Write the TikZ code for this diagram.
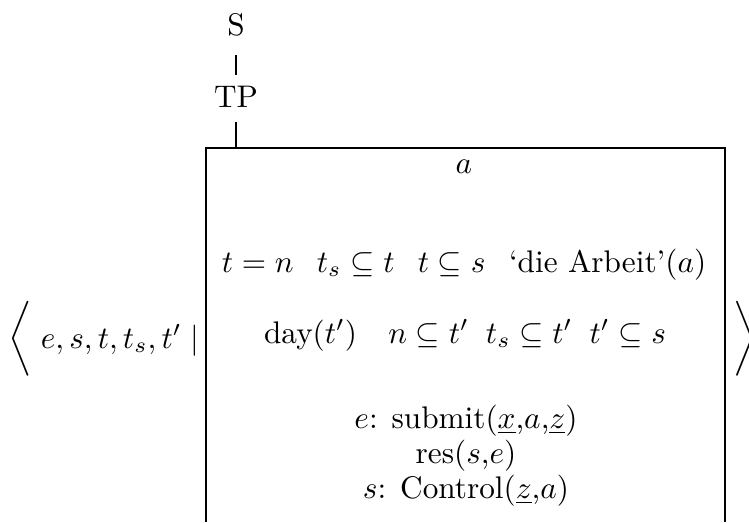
\documentclass[tikz,border=0pt]{standalone}
\usepackage{amsmath,amssymb}
\usepackage{tikz}
\usetikzlibrary{positioning}

\begin{document}
\begin{tikzpicture}[
  x=0.32pt,y=-0.32pt,
  cat/.style={inner sep=3.33pt,font=\normalsize},
  cond/.style={inner sep=0pt,anchor=base},
  brack/.style={inner sep=0pt},
  edge/.style={draw=black,line width=0.5pt}
]
\useasboundingbox (0,0) rectangle (749,522);
% tree
\node[cat] (s) at (236,25) {S};
\node[cat] (tp) at (236,97) {TP};
\coordinate (drstop) at (236,148);
\draw[edge,shorten <=2.5pt] (s) -- (tp);
\draw[edge,shorten <=1pt] (tp) -- (drstop);
% box
\coordinate (boxnw) at (206,148);
\coordinate (boxne) at (725,148);
\coordinate (boxsw) at (206,522);
\coordinate (boxse) at (725,522);
\draw[edge] (boxsw) -- (boxnw) -- (boxne) -- (boxse);
% universe and conditions
\node[cond] (ref) at (464,173) {$a$};
\node[cond] (row1) at (464,272) {$t = n$\hspace{7.5pt}$t_s \subseteq t$\hspace{7.5pt}$t \subseteq s$\hspace{7.5pt}`die Arbeit'$(a)$};
\node[cond] (row2) at (465,343) {day$(t')$\quad$n \subseteq t'$\hspace{5.5pt}$t_s \subseteq t'$\hspace{5.5pt}$t' \subseteq s$};
\node[cond] (ev) at (466,428) {$e$: submit$(\underline{x}$,$a$,$\underline{z})$};
\node[cond] (res) at (466,463) {res$(s$,$e)$};
\node[cond] (st) at (466,498) {$s$: Control$(\underline{z}$,$a)$};
% outer brackets
\node[brack] (lang) at (20,339) {$\bigg\langle$};
\node[cond] (dref) at (120,348) {$e, s, t, t_s, t' \mid$};
\node[brack] (rang) at (745,339) {$\bigg\rangle$};
\end{tikzpicture}
\end{document}
